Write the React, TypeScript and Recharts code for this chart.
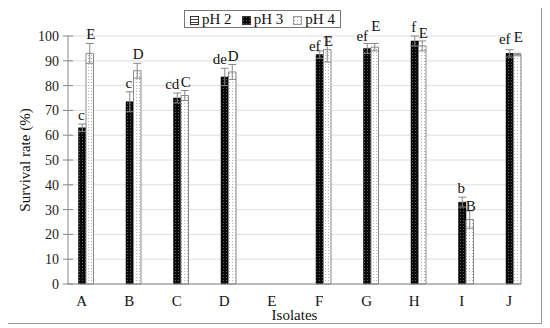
import React from 'react';
import { BarChart, Bar, XAxis, YAxis, CartesianGrid, ErrorBar, LabelList } from 'recharts';

const isolates = ['A', 'B', 'C', 'D', 'E', 'F', 'G', 'H', 'I', 'J'];
const ph2 = [0, 0, 0, 0, 0, 0, 0, 0, 0, 0];
const ph3 = [63, 73.5, 75, 83.5, 0, 92.5, 95, 98, 33, 93];
const ph4 = [93, 86, 76, 85.5, 0, 94.5, 95.5, 96, 26, 92.5];
const ph3Err = [1.5, 4, 2, 3.5, 0, 1.5, 2, 2, 2, 1.5];
const ph4Err = [4, 3, 2, 3, 0, 5, 1.5, 2, 3.5, 0.5];
const ph3Letters = ['c', 'c', 'cd', 'de', '', 'ef', 'ef', 'f', 'b', 'ef'];
const ph4Letters = ['E', 'D', 'C', 'D', '', 'E', 'E', 'E', 'B', 'E'];
const yTicks = [0, 10, 20, 30, 40, 50, 60, 70, 80, 90, 100];

const data = isolates.map((name, i) => ({
    name,
    ph2: ph2[i],
    ph3: ph3[i],
    ph4: ph4[i],
    e3: ph3Err[i],
    e4: ph4Err[i],
    l3: ph3Letters[i],
    l4: ph4Letters[i],
}));

const FONT = '"Liberation Serif", "DejaVu Serif", serif';
const PX_PER_UNIT = 2.48; // plot height / 100

const Patterns = () => (
    <defs>
        <pattern id="p2" width="3" height="3" patternUnits="userSpaceOnUse">
            <rect width="3" height="3" fill="#fff" />
            <rect width="3" height="1" fill="#444" />
        </pattern>
        <pattern id="p3" width="3" height="3" patternUnits="userSpaceOnUse">
            <rect width="3" height="3" fill="#0a0a0a" />
            <rect x="1" y="1" width="1" height="1" fill="#5a5a5a" />
        </pattern>
        <pattern id="p4" width="3" height="3" patternUnits="userSpaceOnUse">
            <rect width="3" height="3" fill="#fff" />
            <rect x="1" y="1" width="1" height="1" fill="#b5b5b5" />
        </pattern>
    </defs>
);

const YTick = (props: any) => {
    const { x, y, payload } = props;
    return (
        <g>
            <line x1={x - 5} x2={x + 5} y1={y} y2={y} stroke="#888" />
            <text x={x - 9} y={y} dy="0.35em" textAnchor="end" fontSize={14} fill="#222" fontFamily={FONT}>
                {payload.value}
            </text>
        </g>
    );
};

// letter sits above the error bar; longer pH 3 letters lean left so they don't hit pH 4's
const makeLetter = (errs: number[], lean: number) => (props: any) => {
    const { x, y, width, value, index } = props;
    if (!value) return null;
    const top = y - errs[index] * PX_PER_UNIT - 4;
    const dx = lean * (String(value).length - 1) * 4 + (lean < 0 ? -1 : 1);
    return (
        <text x={x + width / 2 + dx} y={top} textAnchor="middle" fontSize={15} fill="#111" fontFamily={FONT}>
            {value}
        </text>
    );
};

const LegendIcon = ({ id }: { id: string }) => (
    <svg width="9" height="9" style={{ marginRight: 3, verticalAlign: 'middle' }}>
        <Patterns />
        <rect x="0.5" y="0.5" width="8" height="8" fill={`url(#${id})`} stroke={id === 'p4' ? '#999' : '#333'} />
    </svg>
);

export default function App() {
    return (
        <div style={{ position: 'relative', width: 535, height: 317, marginLeft: -3, marginTop: -3, border: '1px solid #9a9a9a', fontFamily: FONT }}>
            <div
                style={{
                    position: 'absolute',
                    left: 178,
                    top: 4,
                    width: 155,
                    height: 16,
                    border: '1px solid #777',
                    display: 'flex',
                    alignItems: 'center',
                    justifyContent: 'space-around',
                    fontSize: 15,
                    color: '#111',
                    lineHeight: '16px',
                    background: '#fff',
                    zIndex: 2,
                }}
            >
                <span><LegendIcon id="p2" />pH 2</span>
                <span><LegendIcon id="p3" />pH 3</span>
                <span><LegendIcon id="p4" />pH 4</span>
            </div>
            <BarChart
                width={535}
                height={317}
                data={data}
                margin={{ top: 30, right: 20, bottom: 15, left: 12 }}
                barGap={0}
                barSize={7.5}
            >
                <Patterns />
                <CartesianGrid vertical={false} stroke="#dedede" />
                <XAxis
                    dataKey="name"
                    padding={{ left: -10, right: -12 }}
                    tickLine={false}
                    axisLine={{ stroke: '#888' }}
                    tickMargin={5}
                    height={24}
                    tick={{ fontSize: 15, fill: '#111', fontFamily: FONT }}
                    interval={0}
                    label={{
                        content: (p: any) => (
                            <text
                                x={p.viewBox.x + p.viewBox.width / 2}
                                y={p.viewBox.y + 31}
                                dy="0.35em"
                                textAnchor="middle"
                                fontSize={15}
                                fill="#111"
                                fontFamily={FONT}
                            >
                                Isolates
                            </text>
                        ),
                    }}
                />
                <YAxis
                    domain={[0, 100]}
                    ticks={yTicks}
                    width={50}
                    tickLine={false}
                    tickSize={0}
                    tickMargin={0}
                    axisLine={{ stroke: '#888' }}
                    tick={<YTick />}
                    label={{
                        content: (p: any) => {
                            const cx = p.viewBox.x + 7;
                            const cy = p.viewBox.y + p.viewBox.height / 2;
                            return (
                                <text
                                    x={cx}
                                    y={cy}
                                    transform={`rotate(-90 ${cx} ${cy})`}
                                    dy="0.35em"
                                    textAnchor="middle"
                                    fontSize={15}
                                    fill="#111"
                                    fontFamily={FONT}
                                >
                                    Survival rate (%)
                                </text>
                            );
                        },
                    }}
                />
                <Bar dataKey="ph2" fill="url(#p2)" stroke="#333" strokeWidth={0.5} isAnimationActive={false} />
                <Bar dataKey="ph3" fill="url(#p3)" stroke="#000" strokeWidth={0.5} isAnimationActive={false}>
                    <ErrorBar dataKey="e3" width={4} stroke="#888" strokeWidth={1} />
                    <LabelList dataKey="l3" content={makeLetter(ph3Err, -1)} />
                </Bar>
                <Bar dataKey="ph4" fill="url(#p4)" stroke="#8a8a8a" strokeWidth={1} isAnimationActive={false}>
                    <ErrorBar dataKey="e4" width={4} stroke="#888" strokeWidth={1} />
                    <LabelList dataKey="l4" content={makeLetter(ph4Err, 1)} />
                </Bar>
            </BarChart>
        </div>
    );
}
